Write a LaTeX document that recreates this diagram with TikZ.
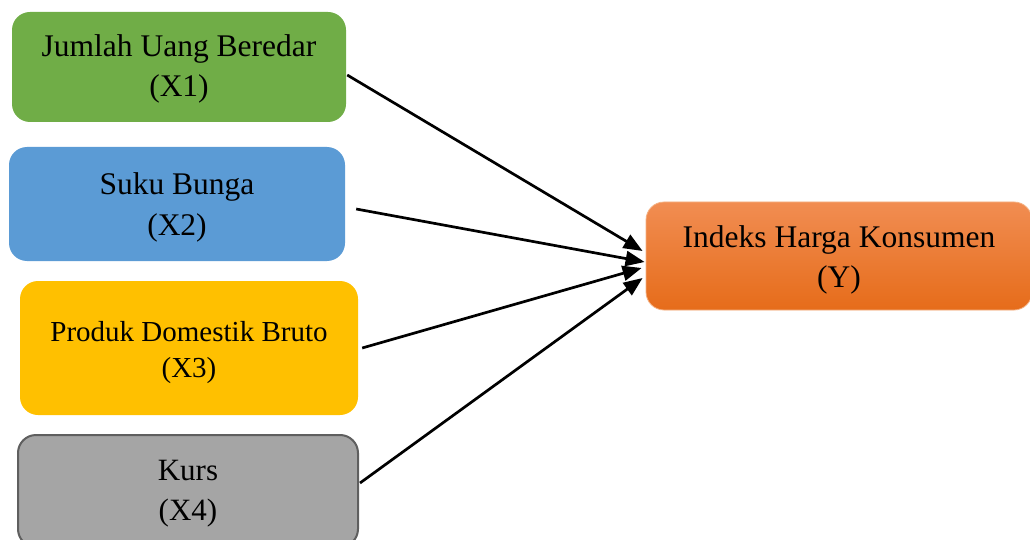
\documentclass[tikz,border=0pt]{standalone}
\usepackage{fontspec}
\setmainfont{Liberation Serif}
\usetikzlibrary{arrows.meta}
\definecolor{cgreen}{HTML}{70AD47}
\definecolor{cblue}{HTML}{5B9BD5}
\definecolor{cyellow}{HTML}{FFC000}
\definecolor{cgray}{HTML}{A5A5A5}
\definecolor{cgrayline}{HTML}{5F5F5F}
\definecolor{corangetop}{HTML}{F18D52}
\definecolor{corangebot}{HTML}{E66C1A}
\definecolor{corangeline}{HTML}{F4B183}
\tikzset{
  varbox/.style={rectangle, rounded corners=18pt, inner sep=0pt},
  vartext/.style={align=center, inner sep=0pt, font=\fontsize{31.5}{40}\selectfont},
  arr/.style={line width=2.7pt, -{Triangle[length=19pt,width=15pt]}},
}
\begin{document}
\begin{tikzpicture}[x=1pt,y=-1pt]
\useasboundingbox (0,0) rectangle (1030,540);
\node[varbox, fill=cgreen, minimum width=334pt, minimum height=110pt] (x1) at (179,67) {};
\node[varbox, fill=cblue, minimum width=336pt, minimum height=114pt] (x2) at (177,204) {};
\node[varbox, fill=cyellow, minimum width=338pt, minimum height=134pt] (x3) at (189,348) {};
\node[varbox, fill=cgray, draw=cgrayline, line width=2pt, minimum width=340pt, minimum height=112pt] (x4) at (188,491) {};
\node[varbox, top color=corangetop, bottom color=corangebot, draw=corangeline, line width=0.8pt, minimum width=386pt, minimum height=108pt] (y) at (839,256) {};
\node[vartext] (t1) at ([shift={(0,2)}]x1.center) {Jumlah Uang Beredar\\(X1)};
\node[vartext, font=\fontsize{31.5}{41}\selectfont] (t2) at ([shift={(0,3)}]x2.center) {Suku Bunga\\(X2)};
\node[vartext, font=\fontsize{29}{36}\selectfont] (t3) at ([shift={(0,5)}]x3.center) {Produk Domestik Bruto\\(X3)};
\node[vartext, font=\fontsize{31}{40}\selectfont] (t4) at ([shift={(0,3)}]x4.center) {Kurs\\(X4)};
\node[vartext, font=\fontsize{31.5}{40}\selectfont] (ty) at ([shift={(0,4)}]y.center) {Indeks Harga Konsumen\\(Y)};
\draw[arr] ([shift={(1,8)}]x1.east) -- ([shift={(-3,-5)}]y.west);
\draw[arr] ([shift={(11,5)}]x2.east) -- ([shift={(-1,6)}]y.west);
\draw[arr] ([shift={(4,0)}]x3.east) -- ([shift={(-4,12)}]y.west);
\draw[arr] ([shift={(1,-8)}]x4.east) -- ([shift={(-3,22)}]y.west);
\end{tikzpicture}
\end{document}
